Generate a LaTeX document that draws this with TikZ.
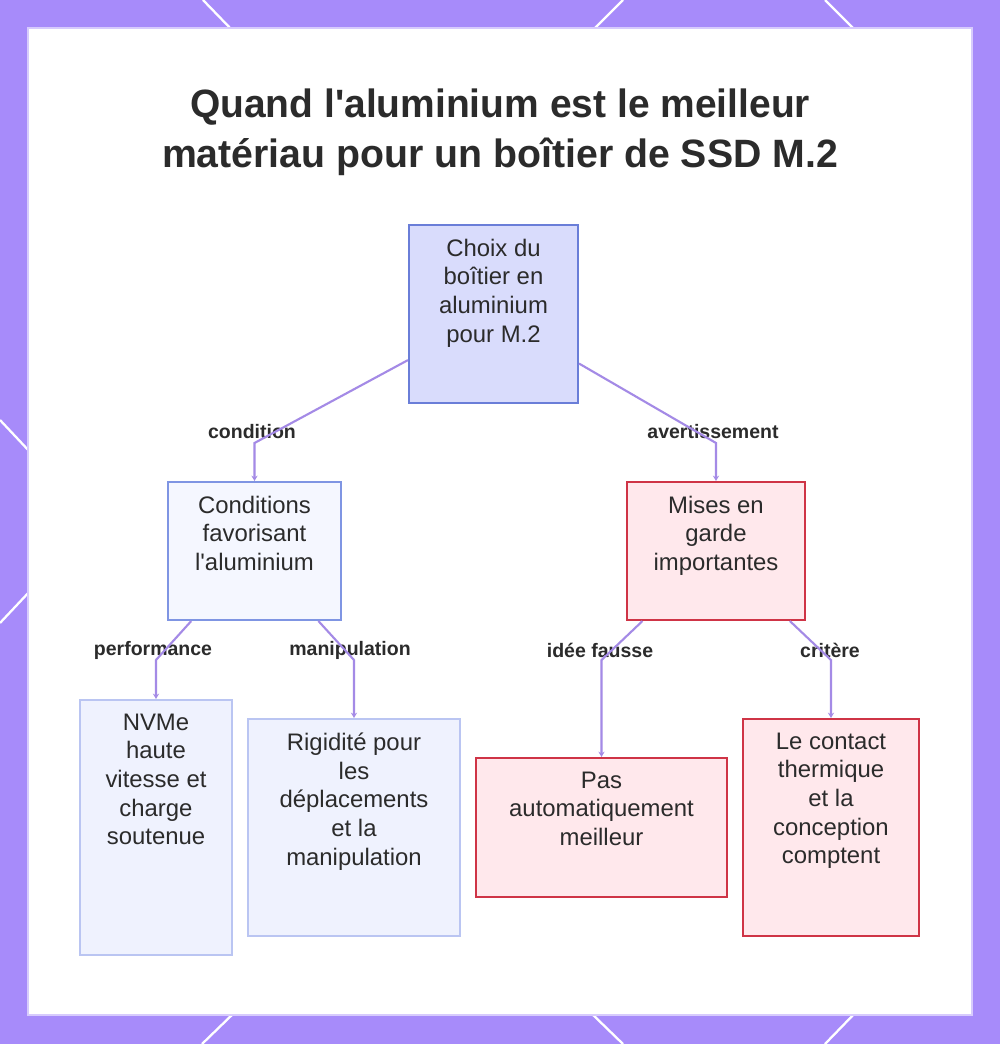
\documentclass[tikz,border=0pt]{standalone}
\usepackage{fontspec}
\newfontfamily\nf{Liberation Sans}
\usetikzlibrary{arrows.meta,calc}
\definecolor{framec}{HTML}{A78BFA}
\definecolor{edgec}{HTML}{A48AE6}
\definecolor{txt}{HTML}{2B2B2B}
\definecolor{rootfill}{HTML}{D9DCFC}
\definecolor{rootdraw}{HTML}{6A7ED8}
\definecolor{condfill}{HTML}{F5F7FF}
\definecolor{conddraw}{HTML}{7F95E3}
\definecolor{leaffill}{HTML}{EFF2FE}
\definecolor{leafdraw}{HTML}{BAC5F2}
\definecolor{warnfill}{HTML}{FFE8EC}
\definecolor{warndraw}{HTML}{CF3446}
\tikzset{
  box/.style={draw, rectangle, inner sep=0pt, line width=1.2pt},
  rootbox/.style={box, fill=rootfill, draw=rootdraw},
  condbox/.style={box, fill=condfill, draw=conddraw},
  leafbox/.style={box, fill=leaffill, draw=leafdraw},
  warnbox/.style={box, fill=warnfill, draw=warndraw},
  boxtext/.style={anchor=north, inner sep=0pt, align=center, text=txt,
    font=\nf\fontsize{13.6pt}{16.3pt}\selectfont, yshift=-8.3pt},
  lbl/.style={inner sep=0pt, text=txt, font=\nf\fontsize{11.1pt}{12pt}\selectfont\bfseries},
  edge/.style={draw=edgec, line width=1.2pt, -{Stealth[length=3pt,width=3.5pt]}},
  border/.style={white, line width=1.3pt}
}
\begin{document}
\begin{tikzpicture}[x=0.02cm,y=-0.02cm]
\useasboundingbox (0,0) rectangle (1000,1044);
% frame
\fill[framec] (0,0) rectangle (1000,1044);
\draw[border] (203,0) -- (233,31);
\draw[border] (623,0) -- (592,31);
\draw[border] (825,0) -- (856,31);
\draw[border] (235,1012) -- (202,1044);
\draw[border] (590,1012) -- (623,1044);
\draw[border] (856,1012) -- (825,1044);
\draw[border] (0,420) -- (31,453);
\draw[border] (0,623) -- (31,590);
\fill[white, draw=framec!45, line width=0.6pt] (28,28) rectangle (972,1015);
% title
\node[align=center, text=txt, inner sep=0pt,
  font=\nf\fontsize{22.5pt}{28.5pt}\selectfont\bfseries] (title) at (500,132)
  {\resizebox{12.4cm}{\height}{Quand l'aluminium est le meilleur}\\
   \resizebox{13.52cm}{\height}{matériau pour un boîtier de SSD M.2}};
% boxes
\node[rootbox, minimum width=169*0.02cm, minimum height=178*0.02cm] (root) at (493.5,314) {};
\node[condbox, minimum width=173*0.02cm, minimum height=138*0.02cm] (cond) at (254.5,551) {};
\node[warnbox, minimum width=178*0.02cm, minimum height=138*0.02cm] (warn) at (716,551) {};
\node[leafbox, minimum width=152*0.02cm, minimum height=255*0.02cm] (nvme) at (156,827.5) {};
\node[leafbox, minimum width=212*0.02cm, minimum height=217*0.02cm] (rig) at (354,827.5) {};
\node[warnbox, minimum width=251*0.02cm, minimum height=139*0.02cm] (pas) at (601.5,827.5) {};
\node[warnbox, minimum width=176*0.02cm, minimum height=217*0.02cm] (contact) at (831,827.5) {};
% box texts
\node[boxtext] (troot) at (root.north) {Choix du\\boîtier en\\aluminium\\pour M.2};
\node[boxtext] (tcond) at (cond.north) {Conditions\\favorisant\\l'aluminium};
\node[boxtext] (twarn) at (warn.north) {Mises en\\garde\\importantes};
\node[boxtext] (tnvme) at (nvme.north) {NVMe\\haute\\vitesse et\\charge\\soutenue};
\node[boxtext] (trig) at (rig.north) {Rigidité pour\\les\\déplacements\\et la\\manipulation};
\node[boxtext] (tpas) at (pas.north) {Pas\\automatiquement\\meilleur};
\node[boxtext] (tcontact) at (contact.north) {Le contact\\thermique\\et la\\conception\\comptent};
% bend points
\coordinate (b1) at (254.5,443);
\coordinate (b2) at (716,443);
\coordinate (b3) at (156,660);
\coordinate (b4) at (354,660);
\coordinate (b5) at (601.5,660);
\coordinate (b6) at (831,660);
% labels
\node[lbl] (l1) at (252,432) {condition};
\node[lbl] (l2) at (713,432) {avertissement};
\node[lbl] (l3) at (153,650) {performance};
\node[lbl] (l4) at (350,650) {manipulation};
\node[lbl] (l5) at (600,650) {idée fausse};
\node[lbl] (l6) at (830,650) {critère};
% edges
\draw[edge] (root) -- (b1) -- (cond);
\draw[edge] (root) -- (b2) -- (warn);
\draw[edge] (cond) -- (b3) -- (nvme);
\draw[edge] (cond) -- (b4) -- (rig);
\draw[edge] (warn) -- (b5) -- (pas);
\draw[edge] (warn) -- (b6) -- (contact);
\end{tikzpicture}
\end{document}
